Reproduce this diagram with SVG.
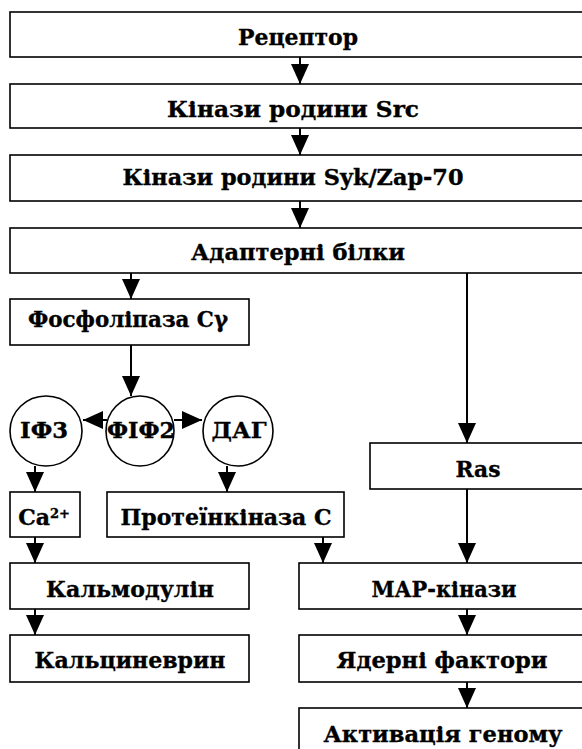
<svg xmlns="http://www.w3.org/2000/svg" width="582" height="749" viewBox="0 0 582 749">
<defs>
<marker id="ah" markerUnits="userSpaceOnUse" markerWidth="20" markerHeight="18" refX="20" refY="9" orient="auto">
<path d="M0,0 L20,9 L0,18 z" fill="#000"/>
</marker>
<style>
.n rect,.n ellipse{fill:#fff;stroke:#000;stroke-width:1.6}
text{font-family:"DejaVu Serif","Liberation Serif",serif;font-weight:bold;font-size:22px;fill:#000;stroke:#000;stroke-width:0.35;text-anchor:middle}
.c line{stroke:#000;stroke-width:2;marker-end:url(#ah)}
</style>
</defs>
<rect width="582" height="749" fill="#fff"/>
<g class="n" id="receptor"><rect x="10" y="12" width="590" height="45"/><text x="298" y="45" textLength="120" lengthAdjust="spacingAndGlyphs">Рецептор</text></g>
<g class="n" id="src"><rect x="10" y="84" width="590" height="44"/><text x="293" y="117" textLength="252" lengthAdjust="spacingAndGlyphs">Кінази родини Src</text></g>
<g class="n" id="syk"><rect x="10" y="155" width="590" height="46"/><text x="293" y="185" textLength="341" lengthAdjust="spacingAndGlyphs">Кінази родини Syk/Zap-70</text></g>
<g class="n" id="adapt"><rect x="10" y="228" width="590" height="45"/><text x="298" y="260" textLength="214" lengthAdjust="spacingAndGlyphs">Адаптерні білки</text></g>
<g class="n" id="plc"><rect x="10" y="299" width="239" height="46"/><text x="128" y="327" textLength="200" lengthAdjust="spacingAndGlyphs">Фосфоліпаза Cγ</text></g>
<g class="n" id="if3"><ellipse cx="46" cy="431" rx="36" ry="35"/><text x="44" y="438" textLength="48" lengthAdjust="spacingAndGlyphs">ІФ3</text></g>
<g class="n" id="fif2"><ellipse cx="140" cy="431" rx="34" ry="35"/><text x="141" y="438" textLength="68" lengthAdjust="spacingAndGlyphs">ФІФ2</text></g>
<g class="n" id="dag"><ellipse cx="238" cy="431" rx="35" ry="35"/><text x="239" y="438" textLength="55" lengthAdjust="spacingAndGlyphs">ДАГ</text></g>
<g class="n" id="ras"><rect x="370" y="443" width="230" height="46"/><text x="478" y="477" textLength="45" lengthAdjust="spacingAndGlyphs">Ras</text></g>
<g class="n" id="ca"><rect x="10" y="492" width="70" height="45"/><text x="44" y="525">Ca<tspan font-size="13" dy="-7">2+</tspan></text></g>
<g class="n" id="pkc"><rect x="107" y="492" width="237" height="45"/><text x="226" y="525" textLength="211" lengthAdjust="spacingAndGlyphs">Протеїнкіназа С</text></g>
<g class="n" id="calm"><rect x="10" y="563" width="239" height="46"/><text x="130" y="597" textLength="168" lengthAdjust="spacingAndGlyphs">Кальмодулін</text></g>
<g class="n" id="calc"><rect x="10" y="635" width="239" height="47"/><text x="130" y="668" textLength="191" lengthAdjust="spacingAndGlyphs">Кальциневрин</text></g>
<g class="n" id="map"><rect x="299" y="563" width="301" height="46"/><text x="444" y="597" textLength="145" lengthAdjust="spacingAndGlyphs">МАР-кінази</text></g>
<g class="n" id="nuc"><rect x="299" y="635" width="301" height="47"/><text x="442" y="668" textLength="211" lengthAdjust="spacingAndGlyphs">Ядерні фактори</text></g>
<g class="n" id="gen"><rect x="299" y="708" width="301" height="60"/><text x="443" y="742" textLength="239" lengthAdjust="spacingAndGlyphs">Активація геному</text></g>
<g class="c" id="connectors">
<line x1="300" y1="57" x2="300" y2="84"/>
<line x1="300" y1="128" x2="300" y2="155"/>
<line x1="300" y1="201" x2="300" y2="228"/>
<line x1="131" y1="273" x2="131" y2="299"/>
<line x1="467" y1="273" x2="467" y2="443"/>
<line x1="131" y1="345" x2="131" y2="396"/>
<line x1="107" y1="420" x2="83" y2="420"/>
<line x1="174" y1="420" x2="202" y2="420"/>
<line x1="35" y1="466" x2="35" y2="492"/>
<line x1="227" y1="466" x2="227" y2="492"/>
<line x1="467" y1="489" x2="467" y2="563"/>
<line x1="323" y1="537" x2="323" y2="563"/>
<line x1="35" y1="537" x2="35" y2="563"/>
<line x1="35" y1="609" x2="35" y2="635"/>
<line x1="467" y1="609" x2="467" y2="635"/>
<line x1="467" y1="682" x2="467" y2="708"/>
</g>
</svg>
